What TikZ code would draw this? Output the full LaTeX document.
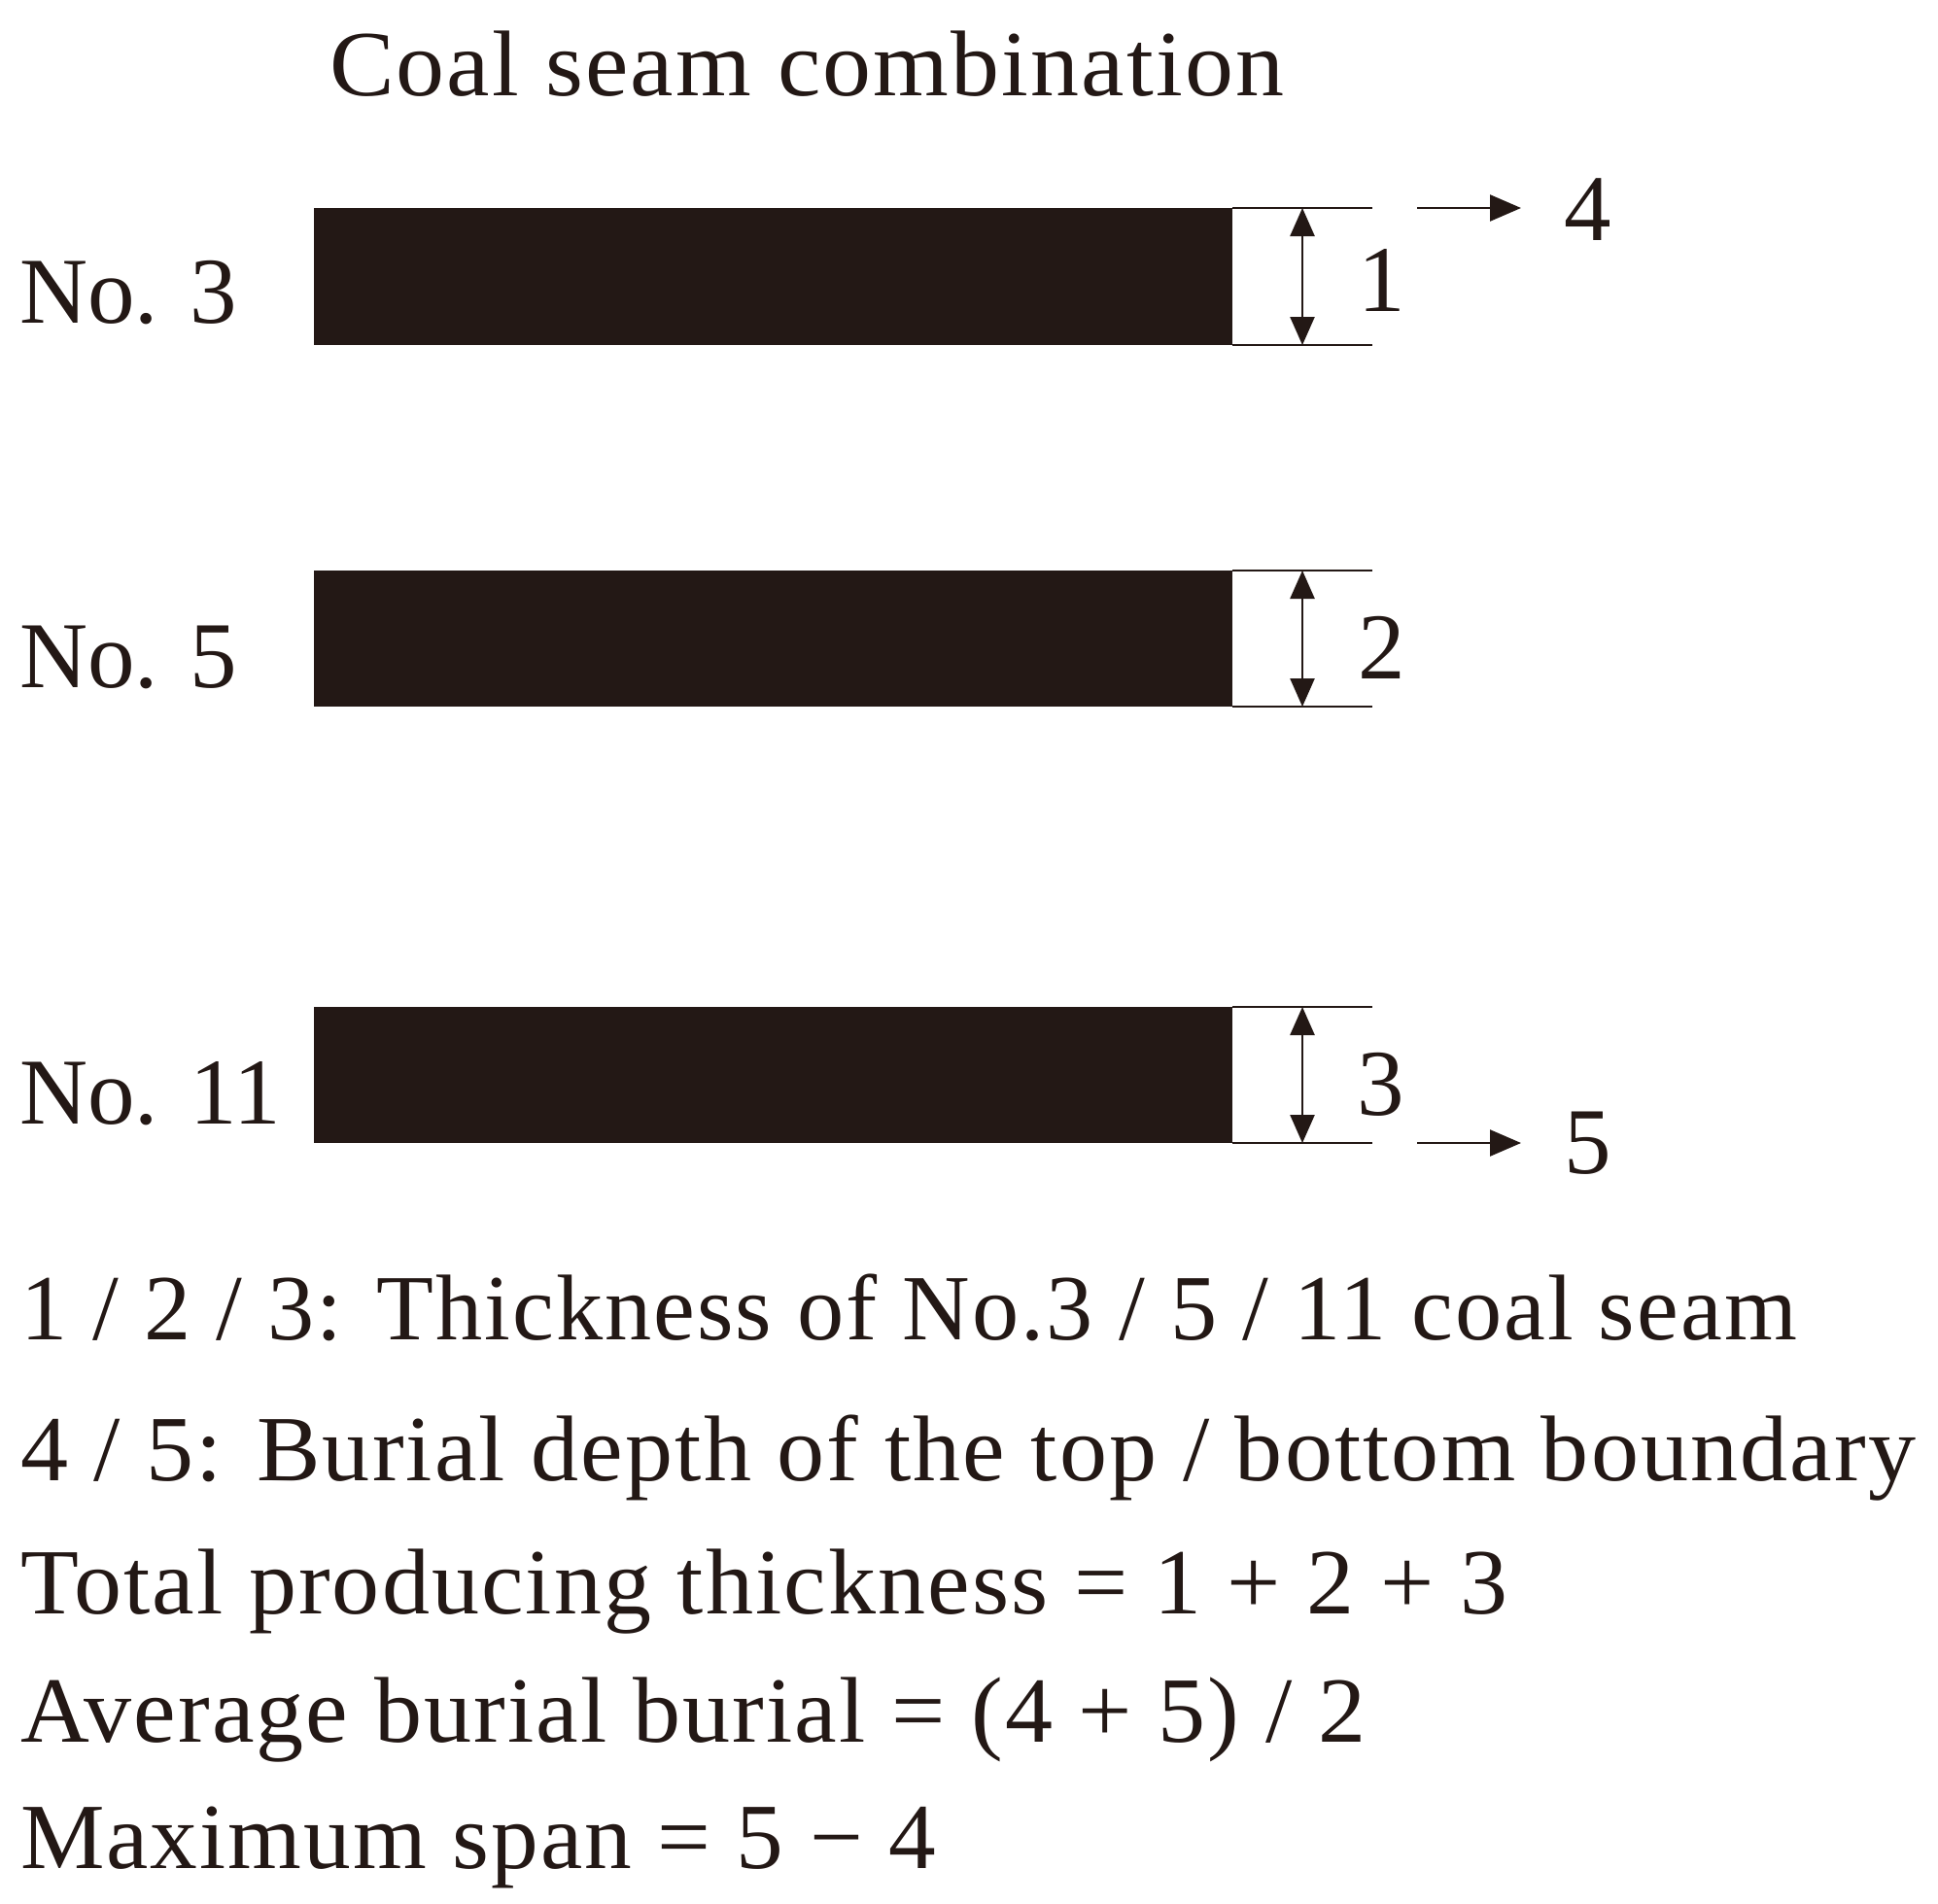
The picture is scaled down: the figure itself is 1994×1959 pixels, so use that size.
\documentclass[tikz,border=0pt]{standalone}
\usepackage{fontspec}
\usepackage{graphicx}
\setmainfont{Liberation Serif}
\newfontfamily\descfont{Liberation Serif}[FakeStretch=0.93,LetterSpace=2]
\usetikzlibrary{arrows.meta}
\definecolor{ink}{RGB}{35,24,21}
\newcommand\fitto[2]{\sbox0{#2}\pgfmathsetmacro\fitsx{#1/(\the\wd0)}\scalebox{\fitsx}[1]{\usebox0}}
\begin{document}
\begin{tikzpicture}[x=1pt,y=-1pt,
  every node/.style={inner sep=0pt,outer sep=0pt,text=ink},
  seam/.style={fill=ink,draw=none,minimum width=945pt,anchor=north west},
  lbl/.style={font=\fontsize{97}{97}\selectfont,anchor=base west},
  num/.style={font=\fontsize{97}{97}\selectfont,anchor=base},
  desc/.style={font=\descfont\fontsize{96}{96}\selectfont,anchor=base west},
  ext/.style={draw=ink,line width=2.5pt},
  dim/.style={draw=ink,line width=2.5pt,{Triangle[length=29pt,width=25pt]}-{Triangle[length=29pt,width=25pt]}},
  pointer/.style={draw=ink,line width=2.5pt,-{Triangle[length=32pt,width=27pt]}}]
\fill[white] (0,0) rectangle (1994,1959);
\useasboundingbox (0,0) rectangle (1994,1959);

% title
\node[desc] (title) at (339,98) {\fitto{982}{Coal seam combination}};

% seams
\node[seam,minimum height=141pt] (b1) at (323,214) {};
\node[seam,minimum height=140pt] (b2) at (323,587) {};
\node[seam,minimum height=140pt] (b3) at (323,1036) {};

\node[lbl] (l3) at (20,332) {No. 3};
\node[lbl] (l5) at (20,707) {No. 5};
\node[lbl] (l11) at (20,1156) {No. 11};

% extension lines
\coordinate (e1t) at (1412,214);
\coordinate (e1b) at (1412,355);
\coordinate (e2t) at (1412,587);
\coordinate (e2b) at (1412,727);
\coordinate (e3t) at (1412,1036);
\coordinate (e3b) at (1412,1176);
\draw[ext] (b1.north east) -- (e1t);
\draw[ext] (b1.south east) -- (e1b);
\draw[ext] (b2.north east) -- (e2t);
\draw[ext] (b2.south east) -- (e2b);
\draw[ext] (b3.north east) -- (e3t);
\draw[ext] (b3.south east) -- (e3b);

% dimension arrows
\coordinate (d1t) at (1340,214);
\coordinate (d1b) at (1340,355);
\coordinate (d2t) at (1340,587);
\coordinate (d2b) at (1340,727);
\coordinate (d3t) at (1340,1036);
\coordinate (d3b) at (1340,1176);
\draw[dim] (d1t) -- (d1b);
\draw[dim] (d2t) -- (d2b);
\draw[dim] (d3t) -- (d3b);

\node[num] (n1) at (1422,320) {1};
\node[num] (n2) at (1422,698) {2};
\node[num] (n3) at (1421,1147) {3};

% burial depth pointers
\coordinate (p4s) at (1458,214);
\coordinate (p4e) at (1565,214);
\coordinate (p5s) at (1458,1176);
\coordinate (p5e) at (1565,1176);
\draw[pointer] (p4s) -- (p4e);
\draw[pointer] (p5s) -- (p5e);
\node[num] (n4) at (1634,247) {4};
\node[num] (n5) at (1634,1207) {5};

% legend
\node[desc] (t1) at (21,1378) {\fitto{1828}{1 / 2 / 3: Thickness of No.3 / 5 / 11 coal seam}};
\node[desc] (t2) at (21,1523) {\fitto{1950}{4 / 5: Burial depth of the top / bottom boundary}};
\node[desc] (t3) at (21,1660) {\fitto{1530}{Total producing thickness = 1 + 2 + 3}};
\node[desc] (t4) at (21,1792) {\fitto{1384}{Average burial burial = (4 + 5) / 2}};
\node[desc] (t5) at (21,1922) {\fitto{942}{Maximum span = 5 − 4}};
\end{tikzpicture}
\end{document}
